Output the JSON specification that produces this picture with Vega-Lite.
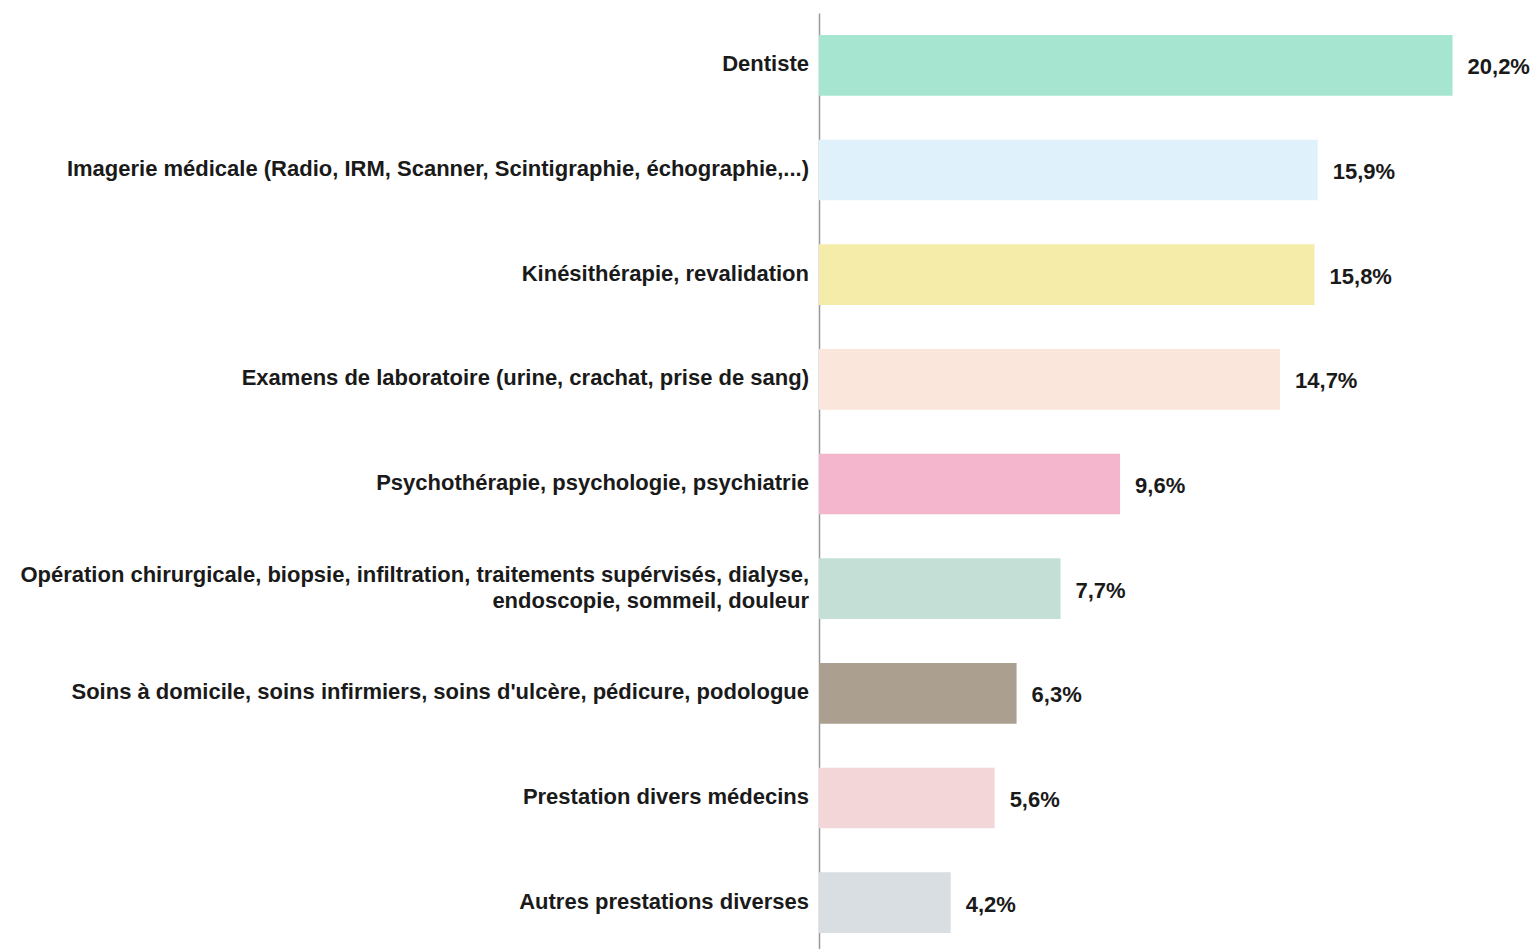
{
  "$schema": "https://vega.github.io/schema/vega-lite/v6.json",
  "autosize": "none",
  "padding": {"left": 819, "top": 13, "right": 26, "bottom": 0},
  "width": 690,
  "height": 942,
  "background": "white",
  "config": {"view": {"stroke": null}, "font": "Liberation Sans"},
  "data": {"values": [
    {"cat": "Dentiste", "val": 20.2, "lab": "20,2%", "color": "#a6e6d0"},
    {"cat": "Imagerie médicale (Radio, IRM, Scanner, Scintigraphie, échographie,...)", "val": 15.9, "lab": "15,9%", "color": "#dff2fb"},
    {"cat": "Kinésithérapie, revalidation", "val": 15.8, "lab": "15,8%", "color": "#f5ecaa"},
    {"cat": "Examens de laboratoire (urine, crachat, prise de sang)", "val": 14.7, "lab": "14,7%", "color": "#fae6da"},
    {"cat": "Psychothérapie, psychologie, psychiatrie", "val": 9.6, "lab": "9,6%", "color": "#f4b6cc"},
    {"cat": "Opération chirurgicale, biopsie, infiltration, traitements supérvisés, dialyse,|endoscopie, sommeil, douleur", "val": 7.7, "lab": "7,7%", "color": "#c4e0d6"},
    {"cat": "Soins à domicile, soins infirmiers, soins d'ulcère, pédicure, podologue", "val": 6.3, "lab": "6,3%", "color": "#aba08f"},
    {"cat": "Prestation divers médecins", "val": 5.6, "lab": "5,6%", "color": "#f2d6d8"},
    {"cat": "Autres prestations diverses", "val": 4.2, "lab": "4,2%", "color": "#d9dee2"}
  ]},
  "encoding": {
    "y": {
      "field": "cat", "type": "nominal", "sort": null,
      "scale": {"paddingInner": 0.42, "paddingOuter": 0.21},
      "axis": {
        "title": null, "ticks": false, "labels": false,
        "domainColor": "#999999", "domainWidth": 1.5
      }
    }
  },
  "layer": [
    {"mark": {"type": "bar"},
     "encoding": {
       "x": {"field": "val", "type": "quantitative", "scale": {"domain": [0, 22]}, "axis": null},
       "color": {"field": "color", "type": "nominal", "scale": null}}},
    {"mark": {"type": "text", "align": "left", "baseline": "middle", "dx": 15, "dy": 2, "font": "Liberation Sans", "fontWeight": "bold", "fontSize": 22, "color": "#1a1a1a"},
     "encoding": {
       "x": {"field": "val", "type": "quantitative"},
       "text": {"field": "lab"}}},
    {"transform": [{"filter": "indexof(datum.cat, '|') < 0"}],
     "mark": {"type": "text", "align": "right", "baseline": "middle", "dx": -10, "dy": -1, "font": "Liberation Sans", "fontWeight": "bold", "fontSize": 22, "color": "#1a1a1a"},
     "encoding": {
       "x": {"datum": 0, "type": "quantitative"},
       "text": {"field": "cat"}}},
    {"transform": [{"filter": "indexof(datum.cat, '|') >= 0"}],
     "mark": {"type": "text", "align": "right", "baseline": "middle", "dx": -10, "dy": -14, "lineBreak": "|", "lineHeight": 26, "font": "Liberation Sans", "fontWeight": "bold", "fontSize": 22, "color": "#1a1a1a"},
     "encoding": {
       "x": {"datum": 0, "type": "quantitative"},
       "text": {"field": "cat"}}}
  ]
}
